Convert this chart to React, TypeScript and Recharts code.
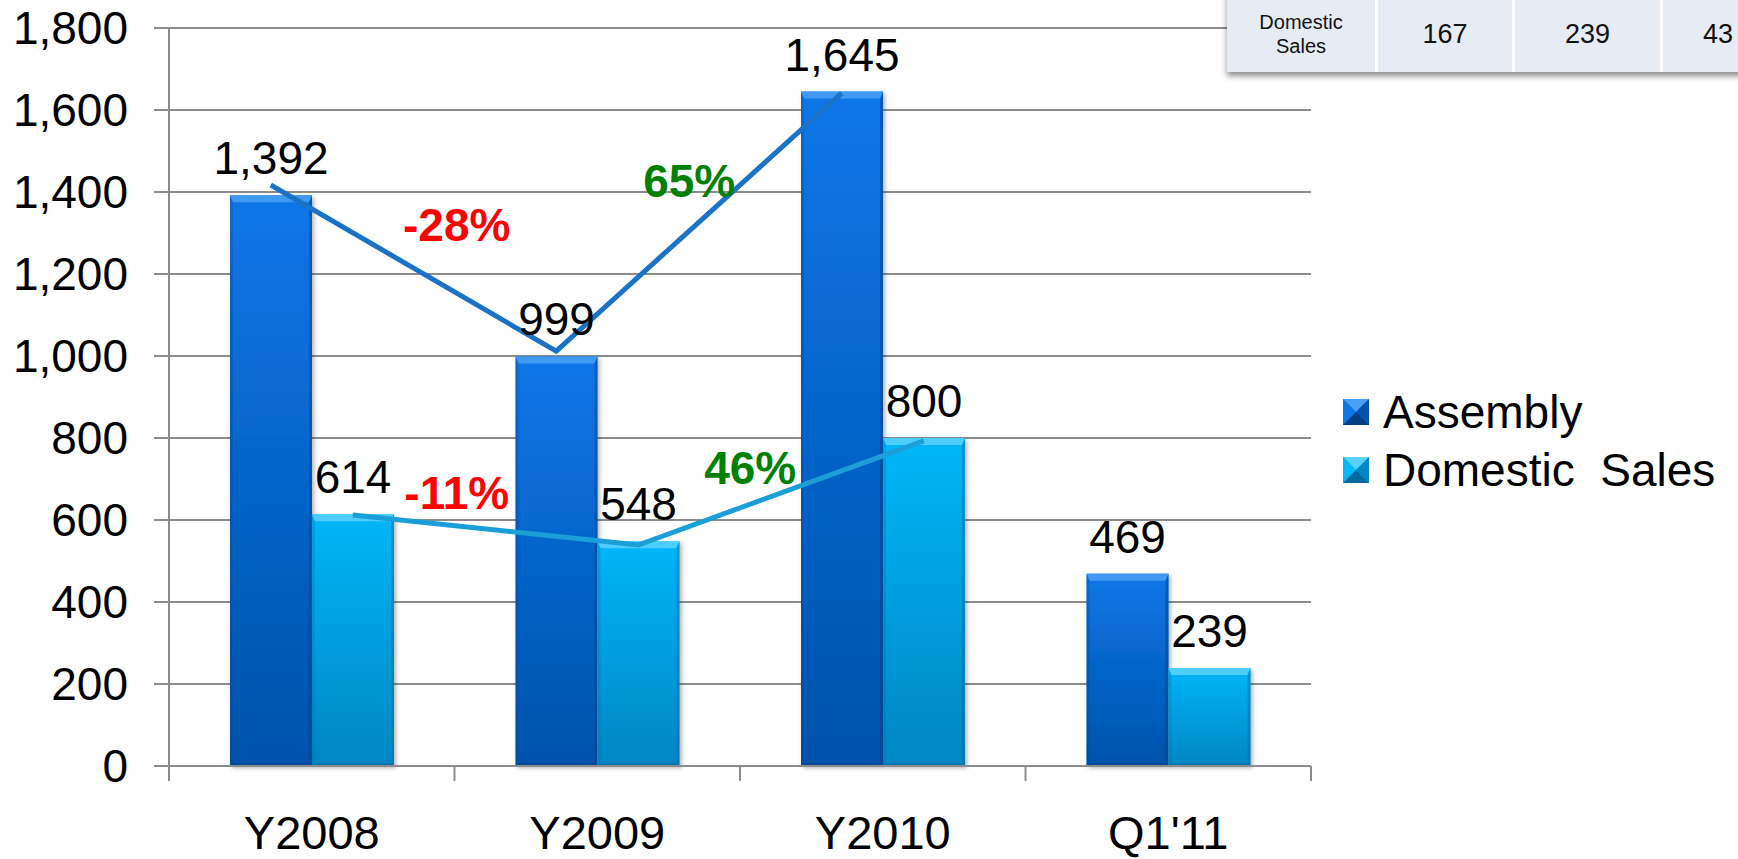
import {
  ComposedChart,
  Bar,
  Line,
  XAxis,
  YAxis,
  CartesianGrid,
  LabelList,
  Legend,
  ReferenceDot,
} from "recharts";

/* ------------------------------------------------------------------ */
/* Data */
/* ------------------------------------------------------------------ */

const categories = ["Y2008", "Y2009", "Y2010", "Q1'11"];
const assembly = [1392, 999, 1645, 469];
const domesticSales = [614, 548, 800, 239];

// hand-drawn trend lines, read at the bar tops
const assemblyTrend = [1417, 1012, 1641, null];
const domesticTrend = [612, 539, 793, null];

// growth call-outs: text, the category they start from, the level they sit at
const growthText = ["-28%", "65%", "-11%", "46%"];
const growthFrom = ["Y2008", "Y2009", "Y2008", "Y2009"];
const growthLevel = [1320, 1429, 668, 727];

const yTicks = [0, 200, 400, 600, 800, 1000, 1200, 1400, 1600, 1800];

// partly visible table in the top right corner
const tableRowLabel = ["Domestic", "Sales"];
const tableValues = ["167", "239", "43"];

/* ------------------------------------------------------------------ */
/* Styling */
/* ------------------------------------------------------------------ */

const FONT = '"Liberation Sans", Arial, sans-serif';
const AXIS = "#8c8c8c";
const BAR_W = 82;
const growthNudge = [145, 92, 145, 153];
const tableCellW = [148, 134, 145, 145];

const series = [
  {
    key: "assembly",
    name: "Assembly",
    top: "#0b76e8",
    bottom: "#0052aa",
    light: "#4aa0f4",
    dark: "#003f86",
  },
  {
    key: "domestic",
    name: "Domestic  Sales",
    top: "#05b6f8",
    bottom: "#0086c2",
    light: "#5ad2ff",
    dark: "#006a9c",
  },
];

const rows = categories.map((category, i) => ({
  category,
  assembly: assembly[i],
  domestic: domesticSales[i],
  assemblyTrend: assemblyTrend[i],
  domesticTrend: domesticTrend[i],
}));

const fmt = (v: number | string) => Number(v).toLocaleString("en-US");

/* ------------------------------------------------------------------ */
/* Shapes */
/* ------------------------------------------------------------------ */

const makeBevelBar = (s: (typeof series)[number]) => (props: any) => {
  const { x, y, width: w, height: h } = props;
  if (!h || h <= 0) return <g />;
  const b = Math.min(7, h / 2);
  const e = 3;
  return (
    <g filter="url(#barShadow)">
      <rect x={x} y={y} width={w} height={h} fill={`url(#grad-${s.key})`} />
      <polygon
        points={`${x},${y} ${x + w},${y} ${x + w - e},${y + b} ${x + e},${y + b}`}
        fill={s.light}
        opacity={0.85}
      />
      <polygon
        points={`${x},${y} ${x + e},${y + b} ${x + e},${y + h - e} ${x},${y + h}`}
        fill={s.dark}
        opacity={0.25}
      />
      <polygon
        points={`${x + w},${y} ${x + w - e},${y + b} ${x + w - e},${y + h - e} ${x + w},${y + h}`}
        fill={s.dark}
        opacity={0.45}
      />
      <polygon
        points={`${x},${y + h} ${x + e},${y + h - e} ${x + w - e},${y + h - e} ${x + w},${y + h}`}
        fill={s.dark}
        opacity={0.5}
      />
    </g>
  );
};

const XTick = (props: any) => {
  const { x, y, payload, index } = props;
  const half = payload?.offset || 142.75;
  const last = index === categories.length - 1;
  return (
    <g>
      <line x1={x - half} x2={x - half} y1={y - 15} y2={y} stroke={AXIS} strokeWidth={2} />
      {last && (
        <line x1={x + half} x2={x + half} y1={y - 15} y2={y} stroke={AXIS} strokeWidth={2} />
      )}
      <text x={x} y={y + 68} textAnchor="middle" fontSize={47} fill="#000">
        {payload.value}
      </text>
    </g>
  );
};

const LegendIcon = ({ s }: { s: (typeof series)[number] }) => (
  <svg width={26} height={26} style={{ display: "block" }}>
    <rect x={0} y={0} width={26} height={26} fill={s.top} />
    <polygon points="0,0 26,0 13,13" fill={s.light} />
    <polygon points="0,0 0,26 13,13" fill={s.top} />
    <polygon points="26,0 26,26 13,13" fill={s.bottom} />
    <polygon points="0,26 26,26 13,13" fill={s.dark} />
  </svg>
);

const LegendContent = () => (
  <div style={{ fontFamily: FONT }}>
    {series.map(s => (
      <div
        key={s.key}
        style={{ display: "flex", alignItems: "center", height: 58 }}
      >
        <LegendIcon s={s} />
        <span
          style={{
            marginLeft: 14,
            fontSize: 46,
            lineHeight: "58px",
            whiteSpace: "pre",
            color: "#000",
          }}
        >
          {s.name}
        </span>
      </div>
    ))}
  </div>
);

/* ------------------------------------------------------------------ */
/* Chart */
/* ------------------------------------------------------------------ */

export default function App() {
  return (
    <div
      style={{
        position: "fixed",
        inset: 0,
        overflow: "hidden",
        background: "#fff",
        fontFamily: FONT,
      }}
    >
      <style>{`
        .trend-assembly { transform: translateX(-${BAR_W / 2}px); }
        .trend-domestic { transform: translateX(${BAR_W / 2}px); }
      `}</style>

      <ComposedChart
        width={1738}
        height={859}
        data={rows}
        margin={{ top: 28, right: 427, bottom: 0, left: 0 }}
        barGap={0}
      >
        <defs>
          {series.map(s => (
            <linearGradient key={s.key} id={`grad-${s.key}`} x1="0" y1="0" x2="0" y2="1">
              <stop offset="0%" stopColor={s.top} />
              <stop offset="100%" stopColor={s.bottom} />
            </linearGradient>
          ))}
          <filter id="barShadow" x="-10%" y="-5%" width="125%" height="115%">
            <feDropShadow dx="2" dy="2" stdDeviation="2" floodColor="#000" floodOpacity="0.3" />
          </filter>
        </defs>

        <CartesianGrid vertical={false} stroke={AXIS} strokeWidth={2} />

        <XAxis
          dataKey="category"
          height={93}
          axisLine={{ stroke: AXIS, strokeWidth: 2 }}
          tickLine={false}
          tickSize={15}
          tickMargin={0}
          tick={XTick}
          interval={0}
        />
        <YAxis
          width={169}
          domain={[0, 1800]}
          ticks={yTicks}
          tickFormatter={fmt}
          axisLine={{ stroke: AXIS, strokeWidth: 2 }}
          tickLine={{ stroke: AXIS, strokeWidth: 2 }}
          tickSize={15}
          tickMargin={26}
          tick={{ fontSize: 46, fill: "#000" }}
        />

        {/* centre + middle keeps the legend from taking room off the plot */}
        <Legend
          layout="horizontal"
          verticalAlign="middle"
          align="center"
          content={LegendContent}
          wrapperStyle={{ left: 1343, top: 383, width: 395 }}
        />

        {series.map(s => (
          <Bar
            key={s.key}
            dataKey={s.key}
            name={s.name}
            barSize={BAR_W}
            shape={makeBevelBar(s)}
            isAnimationActive={false}
          >
            <LabelList
              dataKey={s.key}
              position="top"
              offset={21}
              formatter={fmt}
              fill="#000"
              fontSize={46}
            />
          </Bar>
        ))}

        <Line
          className="trend-assembly"
          dataKey="assemblyTrend"
          stroke="#1a73c9"
          strokeWidth={5}
          dot={false}
          activeDot={false}
          legendType="none"
          isAnimationActive={false}
        />
        <Line
          className="trend-domestic"
          dataKey="domesticTrend"
          stroke="#1a9fd9"
          strokeWidth={5}
          dot={false}
          activeDot={false}
          legendType="none"
          isAnimationActive={false}
        />

        {growthText.map((t, i) => (
          <ReferenceDot
            key={t}
            x={growthFrom[i]}
            y={growthLevel[i]}
            r={0}
            shape={(p: any) => (
              <text
                x={p.cx + growthNudge[i]}
                y={p.cy}
                dy="0.36em"
                textAnchor="middle"
                fontSize={46}
                fontWeight="bold"
                fill={t.startsWith("-") ? "#ff0000" : "#008000"}
              >
                {t}
              </text>
            )}
          />
        ))}
      </ComposedChart>

      {/* cropped table in the top right corner */}
      <div
        style={{
          position: "absolute",
          left: 1227,
          top: -10,
          height: 82,
          display: "flex",
          background: "#fff",
          boxShadow: "0 4px 6px rgba(0,0,0,0.45)",
          color: "#111",
        }}
      >
        {[tableRowLabel.join("\n"), ...tableValues].map((v, i) => (
          <div
            key={i}
            style={{
              width: tableCellW[i],
              marginRight: 3,
              paddingTop: 6,
              background: "#e7ebf4",
              display: "flex",
              alignItems: "center",
              justifyContent: i === 3 ? "flex-start" : "center",
              paddingLeft: i === 3 ? 40 : 0,
              boxSizing: "border-box",
              whiteSpace: "pre",
              textAlign: "center",
              fontSize: i === 0 ? 20 : 27,
              lineHeight: i === 0 ? "24px" : "normal",
            }}
          >
            {v}
          </div>
        ))}
      </div>
    </div>
  );
}
